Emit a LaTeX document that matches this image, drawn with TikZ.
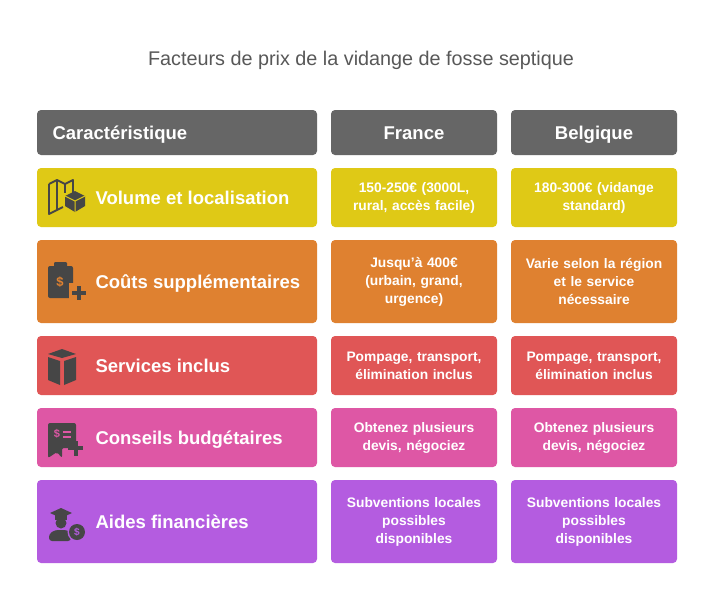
\documentclass[tikz,border=0pt]{standalone}
\usepackage{fontspec}
\setmainfont{Liberation Sans}
\usetikzlibrary{positioning}
\definecolor{hdgray}{HTML}{666666}
\definecolor{cyel}{HTML}{DFC916}
\definecolor{corg}{HTML}{DF8130}
\definecolor{cred}{HTML}{E05656}
\definecolor{cpnk}{HTML}{DE57A5}
\definecolor{cpur}{HTML}{B45CE0}
\definecolor{icon}{HTML}{464646}
\tikzset{
  cell/.style={draw=none, inner sep=0pt, text=white,
    font=\bfseries\fontsize{13.8}{18}\selectfont, align=center, text width=166pt},
  head/.style={font=\bfseries\fontsize{18.5}{22}\selectfont, text=white, text height=13pt, text depth=0pt},
  feat/.style={font=\bfseries\fontsize{18.5}{22}\selectfont, text=white, anchor=west, text height=13pt, text depth=0pt}
}
\begin{document}
\begin{tikzpicture}[x=1pt,y=-1pt]
  \useasboundingbox[fill=white] (0,0) rectangle (722,592);
  \node[font=\fontsize{19.8}{22}\selectfont, text=icon!90] (title) at (361,60) {Facteurs de prix de la vidange de fosse septique};

  % Rows: top, bottom, colour
  \foreach \t/\b/\c [count=\r] in {110/155/hdgray,168/227/cyel,240/323/corg,336/395/cred,408/467/cpnk,480/563/cpur}{
    \fill[\c, rounded corners=4pt] (37,\t) rectangle (317,\b);
    \fill[\c, rounded corners=4pt] (331,\t) rectangle (497,\b);
    \fill[\c, rounded corners=4pt] (511,\t) rectangle (677,\b);
    \coordinate (a\r) at (37,{(\t+\b)/2});
    \coordinate (b\r) at (414,{(\t+\b)/2});
    \coordinate (c\r) at (594,{(\t+\b)/2});
  }

  % Header
  \node[head, anchor=west] (h1) at ([xshift=12pt]a1) {Caractéristique};
  \node[head] (h2) at (b1) {France};
  \node[head] (h3) at (c1) {Belgique};

  % Feature names
  \node[feat] (f1) at ([xshift=55pt]a2) {Volume et localisation};
  \node[feat] (f2) at ([xshift=55pt]a3) {Coûts supplémentaires};
  \node[feat] (f3) at ([xshift=55pt]a4) {Services inclus};
  \node[feat] (f4) at ([xshift=55pt]a5) {Conseils budgétaires};
  \node[feat] (f5) at ([xshift=55pt]a6) {Aides financières};

  % France
  \node[cell] (fr1) at (b2) {150-250€ (3000L,\\rural, accès facile)};
  \node[cell] (fr2) at (b3) {Jusqu'à 400€\\(urbain, grand,\\urgence)};
  \node[cell] (fr3) at (b4) {Pompage, transport,\\élimination inclus};
  \node[cell] (fr4) at (b5) {Obtenez plusieurs\\devis, négociez};
  \node[cell] (fr5) at (b6) {Subventions locales\\possibles\\disponibles};

  % Belgique
  \node[cell] (be1) at (c2) {180-300€ (vidange\\standard)};
  \node[cell] (be2) at (c3) {Varie selon la région\\et le service\\nécessaire};
  \node[cell] (be3) at (c4) {Pompage, transport,\\élimination inclus};
  \node[cell] (be4) at (c5) {Obtenez plusieurs\\devis, négociez};
  \node[cell] (be5) at (c6) {Subventions locales\\possibles\\disponibles};

  % Icons
  \begin{scope}[icon, line width=1.8pt, line join=round]
    % map + cube
    \draw (49,184) -- (57,180) -- (65,184) -- (73,180) -- (73,193);
    \draw (63,207) -- (57,210) -- (49,214) -- (49,184);
    \draw (57,180) -- (57,210); \draw (65,184) -- (65,193);
    \fill (75,191) -- (85,196) -- (85,206) -- (75,212) -- (65,206) -- (65,196) -- cycle;
    \draw[cyel, line width=1pt] (65,196) -- (75,201) -- (85,196) (75,201) -- (75,212);
    % clipboard
    \fill[rounded corners=2pt] (48,266) rectangle (73,298);
    \fill[rounded corners=1pt] (54,262) rectangle (67,269);
    \node[corg, font=\bfseries\fontsize{13}{13}\selectfont] (i2) at (60,282) {\$};
    \fill[corg] (69,283) rectangle (88,302);
    \fill (72,291) rectangle (86,295); \fill (77,286) rectangle (81,300);
    % box
    \fill (48,354) -- (62,349) -- (76,354) -- (62,358) -- cycle;
    \fill (48,357) -- (60,361) -- (60,385) -- (48,380) -- cycle;
    \fill (76,357) -- (64,361) -- (64,385) -- (76,380) -- cycle;
    % receipt
    \fill[rounded corners=2pt] (48,423) -- (76,423) -- (76,448) -- (62,448) -- (62,458) -- (57,452) -- (48,458) -- cycle;
    \node[cpnk, font=\bfseries\fontsize{11}{11}\selectfont] (i4) at (57,434) {\$};
    \draw[cpnk, line width=1.4pt] (63,432) -- (71,432) (63,437) -- (71,437);
    \fill (68,446) rectangle (83,450); \fill (73.5,441) rectangle (77.5,456);
    % graduate
    \fill (50,513) -- (61,508) -- (72,513) -- (61,518) -- cycle;
    \fill (55,515) rectangle (67,520);
    \fill (61,523) circle (5.5pt);
    \fill[rounded corners=3pt] (49,541) -- (49,534) -- (55,530) -- (67,530) -- (71,533) -- (71,541) -- cycle;
    \fill[cpur] (77,532) circle (9.5pt);
    \fill (77,532) circle (8pt);
    \node[cpur, font=\bfseries\fontsize{10}{10}\selectfont] (i5) at (77,532) {\$};
  \end{scope}
\end{tikzpicture}
\end{document}
